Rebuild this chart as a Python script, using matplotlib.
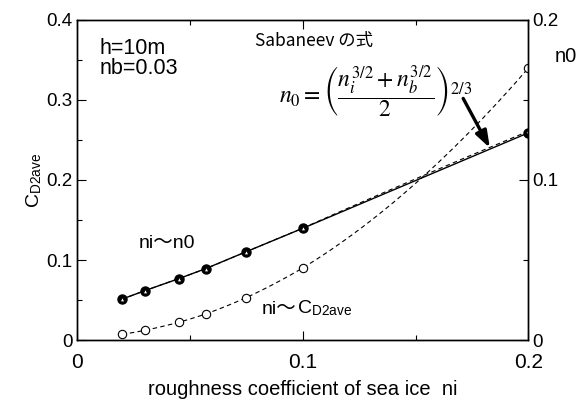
import numpy as np
import matplotlib.pyplot as plt
from matplotlib.ticker import MultipleLocator

# Data
ni = np.array([0.02, 0.03, 0.045, 0.057, 0.075, 0.1, 0.2])
cd2ave = np.array([0.007, 0.012, 0.022, 0.0325, 0.053, 0.090, 0.340])   # left axis
n0 = np.array([0.0256, 0.0308, 0.0383, 0.0446, 0.0552, 0.0698, 0.1295])  # right axis
n0_sab = np.array([0.0254, 0.0307, 0.0382, 0.0445, 0.0551, 0.0699, 0.1305])

plt.rcParams['font.family'] = ['Liberation Sans', 'Noto Sans CJK JP', 'DejaVu Sans']
plt.rcParams['mathtext.fontset'] = 'stix'


def smooth(x, y, n=40):
    # power-law segments between neighbouring points (straight in log-log)
    xx, yy = [], []
    for i in range(len(x) - 1):
        t = np.linspace(0, 1, n)
        lx = np.log(x[i]) + t * (np.log(x[i + 1]) - np.log(x[i]))
        ly = np.log(y[i]) + t * (np.log(y[i + 1]) - np.log(y[i]))
        xx.append(np.exp(lx))
        yy.append(np.exp(ly))
    return np.concatenate(xx), np.concatenate(yy)


fig = plt.figure(figsize=(5.82, 4.03), dpi=100)
ax = fig.add_axes([0.1323, 0.1563, 0.7757, 0.7941])
ax2 = ax.twinx()

cx, cy = smooth(ni, cd2ave)
sx, sy = smooth(ni, n0_sab)

ax.plot(cx, cy, 'k--', lw=0.8, dashes=(4, 3))
ax.plot(ni, cd2ave, 'o', ms=6, mfc='white', mec='k', mew=0.8)

ax2.plot(sx, sy, 'k--', lw=0.8, dashes=(4, 3))
ax2.plot(ni, n0, 'k-', lw=1.0)
ax2.plot(ni, n0, 'o', ms=6.5, color='k')
ax2.plot(ni, n0_sab, '^', ms=3.5, mfc='white', mec='k', mew=0.8)

ax.set_xlim(0, 0.2)
ax.set_ylim(0, 0.4)
ax2.set_ylim(0, 0.2)

ax.xaxis.set_major_locator(MultipleLocator(0.1))
ax.xaxis.set_minor_locator(MultipleLocator(0.05))
ax.yaxis.set_major_locator(MultipleLocator(0.1))
ax.yaxis.set_minor_locator(MultipleLocator(0.05))
ax2.yaxis.set_major_locator(MultipleLocator(0.1))
ax2.yaxis.set_minor_locator(MultipleLocator(0.05))

ax.tick_params(which='both', direction='in', top=True, width=0.8)
ax.tick_params(which='major', length=6.5)
ax.tick_params(which='minor', length=3.5)
ax.tick_params(axis='x', labelsize=15, pad=9)
ax.tick_params(axis='y', labelsize=13.5, pad=3)
ax2.tick_params(which='both', direction='in', width=0.8, labelsize=13.5, pad=3)
ax2.tick_params(which='major', length=6.5)
ax2.tick_params(which='minor', length=3.5)

ax.xaxis.set_major_formatter(lambda v, p: '0' if v == 0 else f'{v:.1f}')
ax.yaxis.set_major_formatter(lambda v, p: '0' if v == 0 else f'{v:.1f}')
ax2.yaxis.set_major_formatter(lambda v, p: '0' if v == 0 else f'{v:.1f}')

for a in (ax, ax2):
    for s in a.spines.values():
        s.set_linewidth(1.0)

ax.set_xlabel('roughness coefficient of sea ice  ni', fontsize=14.5, labelpad=6)
ax.set_ylabel(r'C$_{\mathregular{D2ave}}$', fontsize=14, labelpad=2)

fig.text(0.973, 0.86, 'n0', fontsize=14.5, ha='center', va='center')

ax.text(0.01, 0.377, 'h=10m\nnb=0.03', fontsize=15.5, va='top', linespacing=0.9)
ax.text(0.0788, 0.374, 'Sabaneev の式', fontsize=12.5, va='center',
        family=['Liberation Sans Narrow', 'Noto Sans CJK JP'])
ax.text(0.0895, 0.31,
        r'$n_0=\left(\dfrac{n_i^{3/2}+n_b^{3/2}}{2}\right)^{2/3}$',
        fontsize=17, va='center')
ax.text(0.0275, 0.115, 'ni～n0', fontsize=14)
t = ax.text(0.082, 0.032, 'ni～', fontsize=14)
ax.annotate(r'C$_{\mathregular{D2ave}}$', xy=(1, 0), xycoords=t,
            fontsize=14, va='bottom', ha='left')

ax.annotate('', xy=(0.1835, 0.237), xytext=(0.1705, 0.305),
            arrowprops=dict(arrowstyle='-|>,head_length=1.0,head_width=0.35',
                            color='k', lw=2.4))

plt.savefig('out.png', dpi=100)
